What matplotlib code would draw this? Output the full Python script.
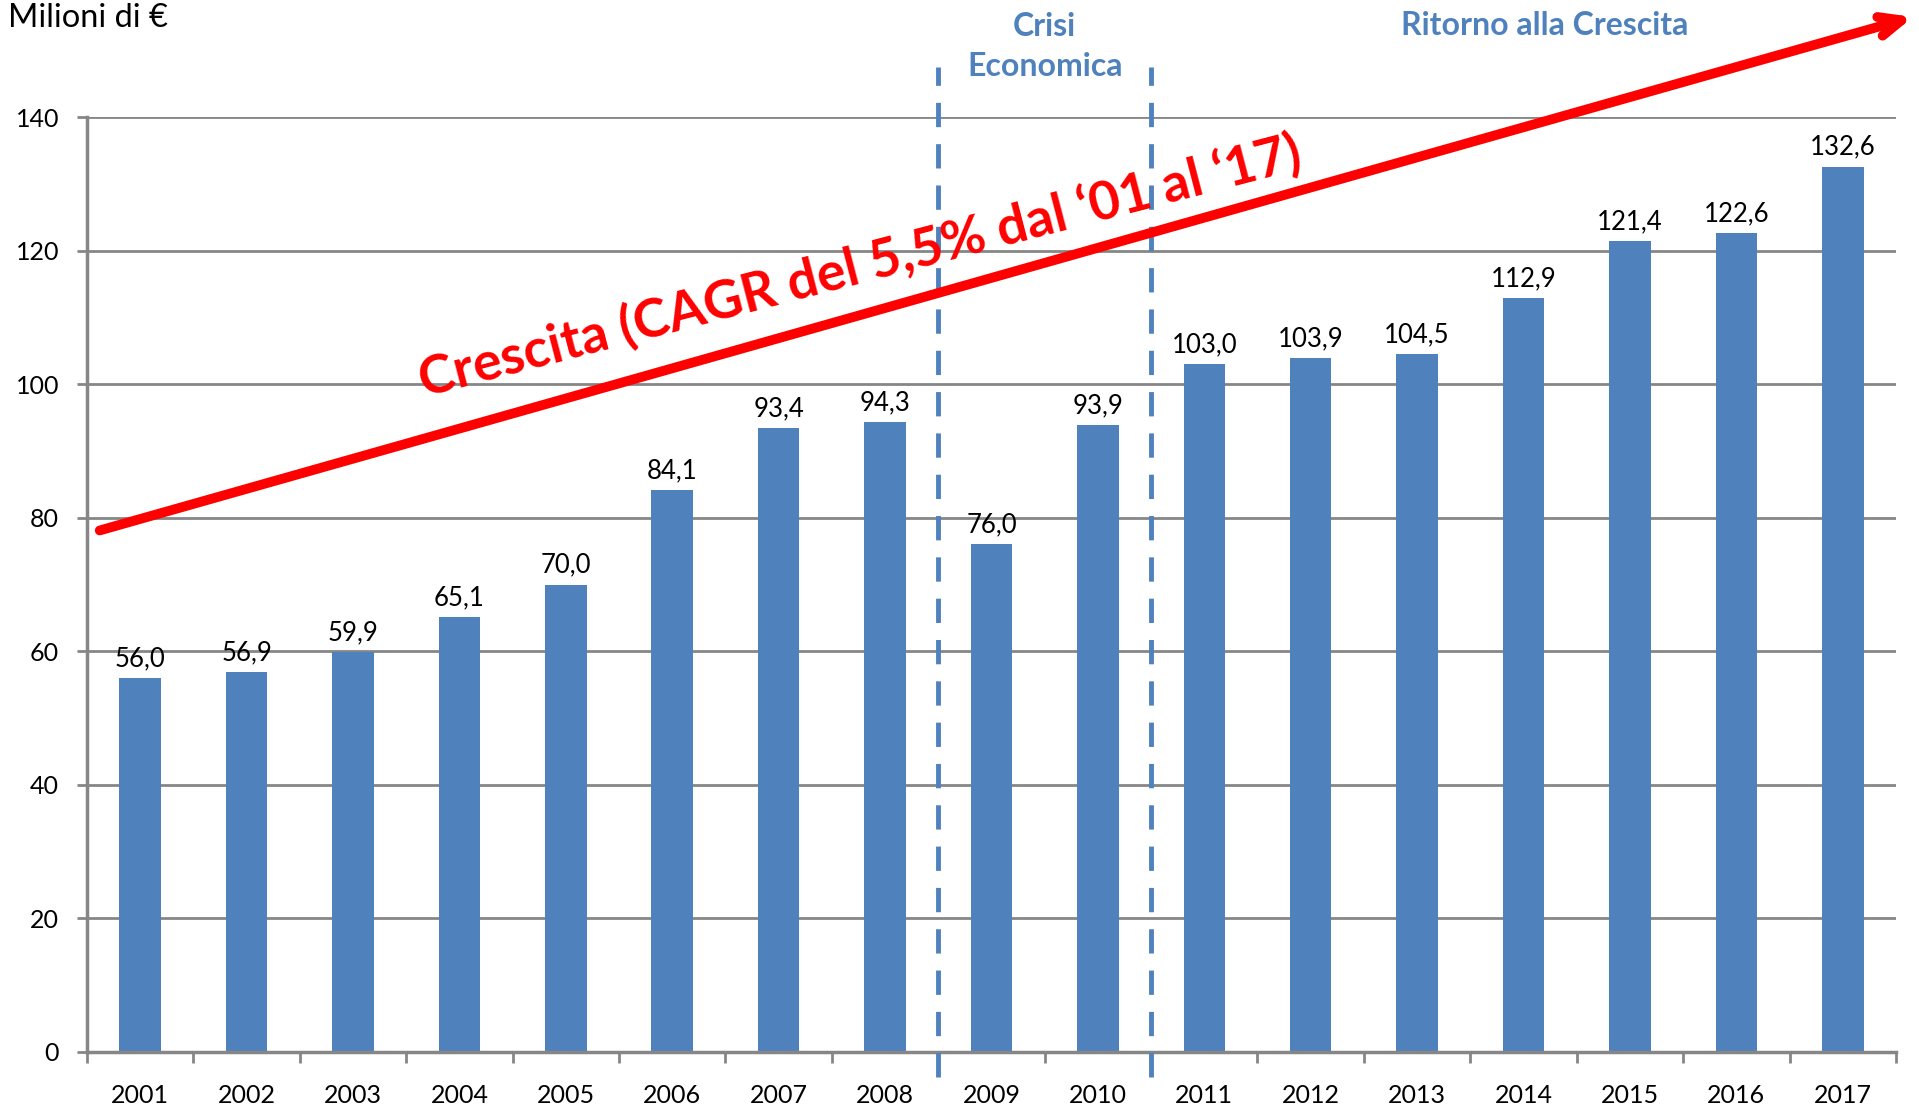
import matplotlib
matplotlib.use('Agg')
import matplotlib.pyplot as plt
import numpy as np

plt.rcParams['font.family'] = ['Lato', 'DejaVu Sans']

# dati (milioni di euro)
anni = ['2001', '2002', '2003', '2004', '2005', '2006', '2007', '2008', '2009',
        '2010', '2011', '2012', '2013', '2014', '2015', '2016', '2017']
valori = [56.0, 56.9, 59.9, 65.1, 70.0, 84.1, 93.4, 94.3, 76.0,
          93.9, 103.0, 103.9, 104.5, 112.9, 121.4, 122.6, 132.6]

BLU = '#4F81BD'
GRIGIO = '#868686'

fig = plt.figure(figsize=(19.19, 11.05), dpi=100)
ax = fig.add_axes([0.0453, 0.048, 0.9427, 0.846])

x = np.arange(len(anni))
ax.bar(x, valori, width=0.39, color=BLU, zorder=3)

# etichette dei valori
for xi, v in zip(x, valori):
    ax.annotate(f'{v:.1f}'.replace('.', ','), (xi, v), xytext=(0, 5),
                textcoords='offset points', ha='center', va='bottom',
                fontsize=18.5, color='black', zorder=4)

ax.set_xlim(-0.5, len(anni) - 0.5)
ax.set_ylim(0, 140)
ax.set_yticks(range(0, 141, 20))
ax.yaxis.grid(True, color=GRIGIO, linewidth=2, zorder=0)
ax.tick_params(axis='y', labelsize=18, length=7, width=2, color=GRIGIO, pad=13)

# tick tra le categorie, etichette al centro
ax.set_xticks(np.arange(-0.5, len(anni), 1))
ax.set_xticklabels([])
ax.set_xticks(x, minor=True)
ax.set_xticklabels(anni, minor=True)
ax.tick_params(axis='x', which='major', length=8, width=2, color=GRIGIO)
ax.tick_params(axis='x', which='minor', length=0, labelsize=18, pad=23)

for s in ['top', 'right']:
    ax.spines[s].set_visible(False)
for s in ['left', 'bottom']:
    ax.spines[s].set_color(GRIGIO)
    ax.spines[s].set_linewidth(2.5)
    ax.spines[s].set_zorder(5)

# linee tratteggiate della crisi
for xv in [7.5, 9.5]:
    ax.plot([xv, xv], [-3.7, 147.5], color=BLU, linewidth=3.5,
            dashes=(5, 3.5), clip_on=False, zorder=6)

ax.text(8.5, 150.6, 'Crisi\nEconomica', ha='center', va='center',
        fontsize=23, fontweight='bold', color=BLU, linespacing=1.45)
ax.text(13.2, 153.7, 'Ritorno alla Crescita', ha='center', va='center',
        fontsize=23, fontweight='bold', color=BLU)

# freccia di crescita
ax.annotate('', xy=(16.66, 155.0), xytext=(-0.38, 78.1),
            arrowprops=dict(arrowstyle='->,head_length=1.6,head_width=0.7',
                            color='#FF0000', linewidth=7, shrinkA=0, shrinkB=0),
            annotation_clip=False, zorder=7)
ax.text(6.76, 117.6, 'Crescita (CAGR del 5,5% dal \u201801 al \u201817)',
        ha='center', va='center', rotation=14.6, rotation_mode='anchor',
        fontsize=38.5, fontweight='bold', color='#FF0000', zorder=7)

fig.text(0.004, 0.997, 'Milioni di \u20ac', ha='left', va='top', fontsize=23.5)

fig.savefig('out.png', dpi=100)
